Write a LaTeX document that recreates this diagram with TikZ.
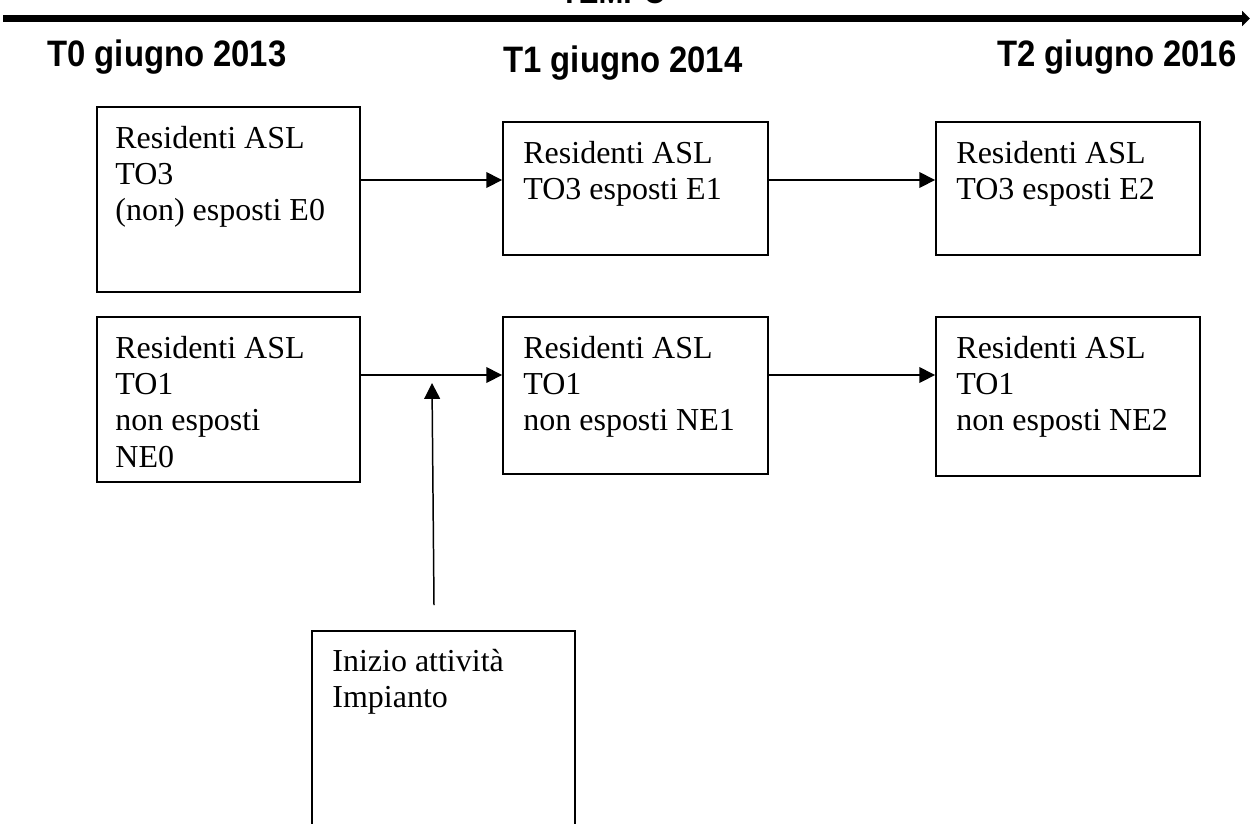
\documentclass[tikz,border=0pt]{standalone}
\usepackage{fontspec}
\setmainfont{Liberation Serif}
\newfontfamily\hfont{Liberation Sans}
\usetikzlibrary{arrows.meta}
\newcommand{\hd}[1]{\scalebox{1}[1.12]{#1}}
\tikzset{
  box/.style={draw, line width=1.1pt, inner sep=0pt, fill=white},
  txt/.style={anchor=north west, inner sep=0pt, align=left,
    font=\fontsize{18.2pt}{20.6pt}\selectfont},
  head/.style={anchor=base west, inner sep=0pt,
    font=\hfont\bfseries\fontsize{18.7pt}{22pt}\selectfont},
  arr/.style={line width=0.85pt, -{Triangle[length=9pt,width=9pt]}},
  timeline/.style={line width=3.6pt, -{Triangle[length=4.5pt,width=8.5pt]}}
}
\begin{document}
\begin{tikzpicture}[x=0.02cm,y=-0.02cm]
\useasboundingbox (0,0) rectangle (1250,823);
% timeline
\coordinate (tl0) at (3,18.5);
\coordinate (tl1) at (1250,18.5);
\draw[timeline] (tl0) -- (tl1);
\node[head, font=\hfont\bfseries\fontsize{17pt}{20pt}\selectfont] (tempo) at (560,3) {\hd{TEMPO}};
% headings
\node[head] (h0) at (47,66) {\hd{T0 giugno 2013}};
\node[head] (h1) at (503,72) {\hd{T1 giugno 2014}};
\node[head] (h2) at (997,66) {\hd{T2 giugno 2016}};
% boxes
\node[box, minimum width=5.26cm, minimum height=3.7cm] (A) at (228.5,199.5) {};
\node[box, minimum width=5.3cm, minimum height=2.66cm] (B) at (635.5,188.5) {};
\node[box, minimum width=5.28cm, minimum height=2.66cm] (C) at (1068,188.5) {};
\node[box, minimum width=5.26cm, minimum height=3.3cm] (D) at (228.5,399.5) {};
\node[box, minimum width=5.3cm, minimum height=3.14cm] (E) at (635.5,395.5) {};
\node[box, minimum width=5.28cm, minimum height=3.18cm] (F) at (1068,396.5) {};
\node[box, minimum width=5.26cm, minimum height=3.98cm] (G) at (443.5,730.5) {};
% texts
\node[txt] (tA) at ([shift={(19,20)}]A.north west) {Residenti ASL\\TO3\\(non) esposti E0};
\node[txt] (tB) at ([shift={(21,20)}]B.north west) {Residenti ASL\\TO3 esposti E1};
\node[txt] (tC) at ([shift={(21,20)}]C.north west) {Residenti ASL\\TO3 esposti E2};
\node[txt] (tD) at ([shift={(19,20)}]D.north west) {Residenti ASL\\TO1\\non esposti\\NE0};
\node[txt] (tE) at ([shift={(21,20)}]E.north west) {Residenti ASL\\TO1\\non esposti NE1};
\node[txt] (tF) at ([shift={(21,20)}]F.north west) {Residenti ASL\\TO1\\non esposti NE2};
\node[txt] (tG) at ([shift={(21,19)}]G.north west) {Inizio attività\\Impianto};
% connectors
\coordinate (r1) at (0,180);
\coordinate (r2) at (0,375);
\draw[arr] (A.east |- r1) -- (B.west |- r1);
\draw[arr] (B.east |- r1) -- (C.west |- r1);
\draw[arr] (D.east |- r2) -- (E.west |- r2);
\draw[arr] (E.east |- r2) -- (F.west |- r2);
\coordinate (vbot) at (434,605);
\coordinate (vtop) at (432,383);
\draw[arr] (vbot) -- (vtop);
\end{tikzpicture}
\end{document}
